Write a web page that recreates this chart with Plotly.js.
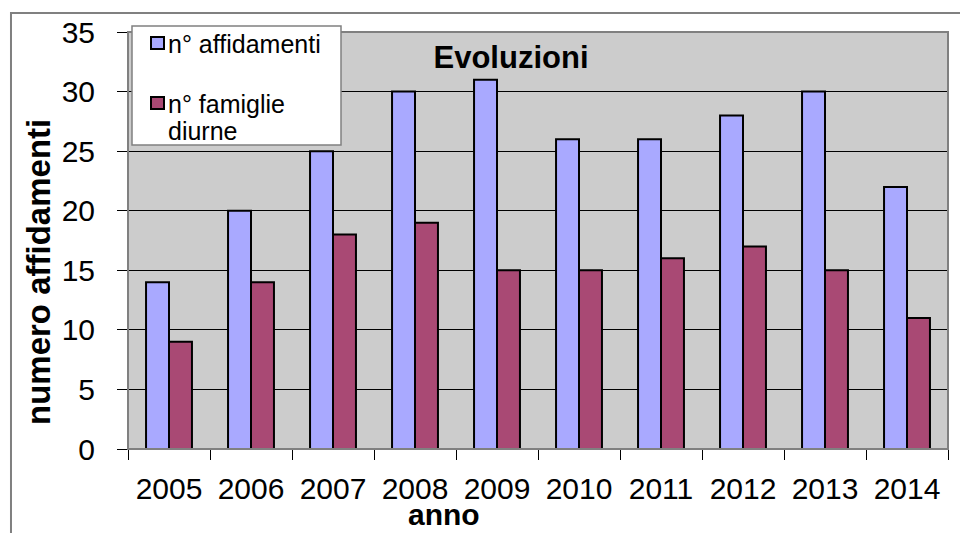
<!DOCTYPE html>
<html>
<head>
<meta charset="utf-8">
<script src="https://cdn.plot.ly/plotly-3.0.1.min.js"></script>
<style>html,body{margin:0;padding:0;background:#fff;}#chart{width:960px;height:533px;}</style>
</head>
<body>
<div id="chart"></div>
<script>
const years = ['2005','2006','2007','2008','2009','2010','2011','2012','2013','2014'];
const affidamenti = [14,20,25,30,31,26,26,28,30,22];
const famiglie = [9,14,18,19,15,15,16,17,15,11];
const seriesNames = ['n° affidamenti', 'n° famiglie', 'diurne'];
const seriesColors = ['#a9a9ff', '#a94974'];
const yTicks = [0,5,10,15,20,25,30,35];

const FONT = 'Liberation Sans, Arial, sans-serif';

const traces = [
  {type:'bar', x: years, y: affidamenti, name: 'n° affidamenti',
   marker:{color:seriesColors[0], line:{color:'#000', width:2}}, hoverinfo:'x+y'},
  {type:'bar', x: years, y: famiglie, name: 'n° famiglie diurne',
   marker:{color:seriesColors[1], line:{color:'#000', width:2}}, hoverinfo:'x+y'}
];

// pixel -> paper helpers (plot area: x 128..948, y 32..449)
const px = v => (v - 128) / 820;
const py = v => (449 - v) / 417;

const layout = {
  width: 960, height: 533,
  margin: {l:128, r:12, t:32, b:84, pad:0},
  paper_bgcolor:'#ffffff',
  plot_bgcolor:'#cccccc',
  font:{family: FONT, color:'#000'},
  barmode:'group',
  bargap:0.44,
  bargroupgap:0,
  showlegend:false,
  title:{text:'<b>Evoluzioni</b>', font:{size:31, family:FONT, color:'#000'},
         xref:'paper', yref:'paper', x:px(511), y:py(57), xanchor:'center', yanchor:'middle'},
  xaxis:{type:'category', tickson:'boundaries', ticks:'outside', ticklen:10, tickcolor:'#000',
         showline:true, linecolor:'#000', linewidth:1, showgrid:false,
         tickfont:{size:30, family:FONT, color:'#000'}, ticklabelstandoff:13},
  yaxis:{range:[0,35], tickvals:yTicks, ticks:'outside', ticklen:10, tickcolor:'#000',
         showline:true, linecolor:'#000', linewidth:1, showgrid:true, gridcolor:'#000', gridwidth:1,
         zeroline:false, tickfont:{size:30, family:FONT, color:'#000'}, ticklabelstandoff:16},
  annotations:[
    {text:'<b>numero affidamenti</b>', xref:'paper', yref:'paper', x:px(38), y:py(272),
     textangle:-90, showarrow:false, font:{size:33, family:FONT, color:'#000'},
     xanchor:'center', yanchor:'middle'},
    {text:'<b>anno</b>', xref:'paper', yref:'paper', x:px(444), y:py(514),
     showarrow:false, font:{size:30, family:FONT, color:'#000'},
     xanchor:'center', yanchor:'middle'},
    {text:seriesNames[0], xref:'paper', yref:'paper', x:px(166), y:py(44),
     showarrow:false, font:{size:25, family:FONT, color:'#000'}, xanchor:'left', yanchor:'middle'},
    {text:seriesNames[1], xref:'paper', yref:'paper', x:px(166), y:py(104),
     showarrow:false, font:{size:25, family:FONT, color:'#000'}, xanchor:'left', yanchor:'middle'},
    {text:seriesNames[2], xref:'paper', yref:'paper', x:px(166), y:py(131),
     showarrow:false, font:{size:25, family:FONT, color:'#000'}, xanchor:'left', yanchor:'middle'}
  ],
  shapes:[
    {type:'rect', xref:'paper', yref:'paper', x0:-0.1427, x1:1.03, y0:-0.25, y1:py(13),
     line:{color:'#808080', width:2}, fillcolor:'rgba(0,0,0,0)', layer:'below'},
    {type:'rect', xref:'paper', yref:'paper', x0:0, x1:1, y0:0, y1:1,
     line:{color:'#808080', width:2}, fillcolor:'rgba(0,0,0,0)', layer:'above'},
    // legend box
    {type:'rect', xref:'paper', yref:'paper', x0:px(132), x1:px(341), y0:py(145), y1:py(26),
     line:{color:'#808080', width:1.5}, fillcolor:'#ffffff', layer:'above'},
    {type:'rect', xref:'paper', yref:'paper', x0:px(151), x1:px(164), y0:py(49), y1:py(37),
     line:{color:'#000', width:2}, fillcolor:seriesColors[0], layer:'above'},
    {type:'rect', xref:'paper', yref:'paper', x0:px(151), x1:px(164), y0:py(109), y1:py(97),
     line:{color:'#000', width:2}, fillcolor:seriesColors[1], layer:'above'}
  ]
};

Plotly.newPlot('chart', traces, layout, {displayModeBar:false, responsive:false});
</script>
</body>
</html>
